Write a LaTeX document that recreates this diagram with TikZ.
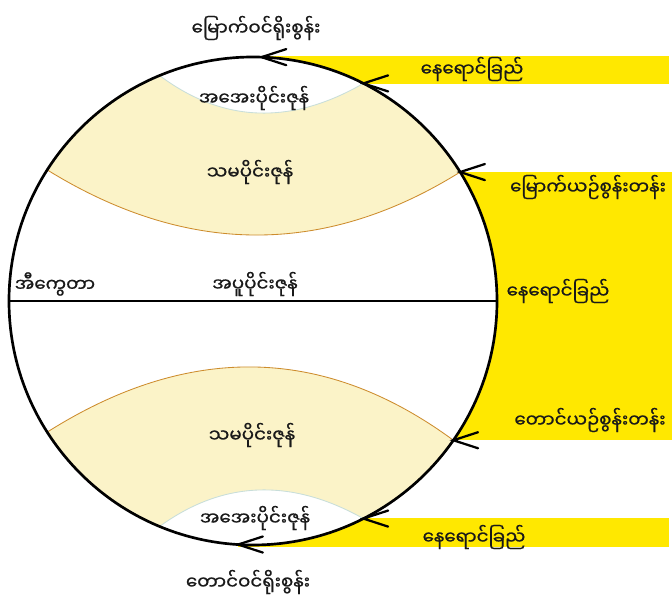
\documentclass[tikz,border=0pt]{standalone}
\usepackage{fontspec}
\newfontfamily\mmfont[Script=Myanmar,FakeBold=0.8]{Noto Sans Myanmar UI}
\usepackage{tikz}
\usetikzlibrary{calc}

\definecolor{sunyellow}{RGB}{255,232,0}
\definecolor{zonecream}{RGB}{251,243,200}
\definecolor{tropicline}{RGB}{205,140,45}
\definecolor{frigidline}{RGB}{200,222,218}

\begin{document}
\begin{tikzpicture}[x=0.025cm,y=-0.025cm,
  sun/.style={fill=sunyellow},
  zone/.style={fill=zonecream},
  ray/.style={line width=1.6pt,line cap=round},
  lbl/.style={font=\mmfont\fontsize{13}{15}\selectfont,text=black!90}]
  \useasboundingbox (0,0) rectangle (672,596);

  \coordinate (O) at (253,301);
  \def\R{244}

  % equator ends and poles (sun rays touch here)
  \coordinate (W) at ($(O)+(180:\R)$);
  \coordinate (E) at ($(O)+(0:\R)$);
  \coordinate (N) at ($(O)+(-88:\R)$);
  \coordinate (S) at ($(O)+(93.5:\R)$);
  % polar circles
  \coordinate (fL) at ($(O)+(-112.5:\R)$);
  \coordinate (fR) at ($(O)+(-63.1:\R)$);
  \coordinate (gL) at ($(O)+(112.5:\R)$);
  \coordinate (gR) at ($(O)+(63.1:\R)$);
  % tropics
  \coordinate (tL) at ($(O)+(-147.5:\R)$);
  \coordinate (tR) at ($(O)+(-31.9:\R)$);
  \coordinate (sL) at ($(O)+(147.5:\R)$);
  \coordinate (sR) at ($(O)+(34.8:\R)$);

  % sunlight
  \fill[sun] (253,56) rectangle (669,84);
  \fill[sun] (253,172) rectangle (672,440);
  \fill[sun] (238,518) rectangle (669,547);
  \fill[white] (O) circle[radius=\R];

  % temperate zones
  \fill[zone] (fL) .. controls (223,123) and (290.7,125.3) .. (fR)
    arc[start angle=-63.1,end angle=-31.9,radius=\R]
    .. controls (324.3,256.7) and (186.7,256) .. (tL)
    arc[start angle=-147.5,end angle=-112.5,radius=\R] -- cycle;
  \fill[zone] (sL) .. controls (188.9,342.6) and (324.3,345.3) .. (sR)
    arc[start angle=34.8,end angle=63.1,radius=\R]
    .. controls (290.8,477.9) and (222.9,480.5) .. (gL)
    arc[start angle=112.5,end angle=147.5,radius=\R] -- cycle;

  \draw[frigidline,line width=0.6pt] (fL) .. controls (223,123) and (290.7,125.3) .. (fR);
  \draw[frigidline,line width=0.6pt] (gL) .. controls (222.9,480.5) and (290.8,477.9) .. (gR);
  \draw[tropicline,line width=0.6pt] (tL) .. controls (186.7,256) and (324.3,256.7) .. (tR);
  \draw[tropicline,line width=0.6pt] (sL) .. controls (188.9,342.6) and (324.3,345.3) .. (sR);

  \draw[line width=1.9pt] (O) circle[radius=\R];
  \draw[line width=2.1pt] (W) -- (E);

  \foreach \p in {N,fR,tR,sR,gR,S}
    \draw[ray] ($(\p)+(-18:26)$) -- (\p) -- ($(\p)+(18:26)$);

  \node[lbl] (npole) at (256,28) {မြောက်ဝင်ရိုးစွန်း};
  \node[lbl] (raytop) at (472,69) {နေရောင်ခြည်};
  \node[lbl] (coldn) at (254,98) {အအေးပိုင်းဇုန်};
  \node[lbl] (tempn) at (250,172) {သမပိုင်းဇုန်};
  \node[lbl] (cancer) at (588,187) {မြောက်ယဉ်စွန်းတန်း};
  \node[lbl] (equ) at (55,284) {အီကွေတာ};
  \node[lbl] (hot) at (255,284) {အပူပိုင်းဇုန်};
  \node[lbl] (raymid) at (558,291) {နေရောင်ခြည်};
  \node[lbl] (capri) at (590,420) {တောင်ယဉ်စွန်းတန်း};
  \node[lbl] (temps) at (252,435) {သမပိုင်းဇုန်};
  \node[lbl] (colds) at (255,518) {အအေးပိုင်းဇုန်};
  \node[lbl] (raybot) at (474,537) {နေရောင်ခြည်};
  \node[lbl] (spole) at (248,582) {တောင်ဝင်ရိုးစွန်း};
\end{tikzpicture}
\end{document}
